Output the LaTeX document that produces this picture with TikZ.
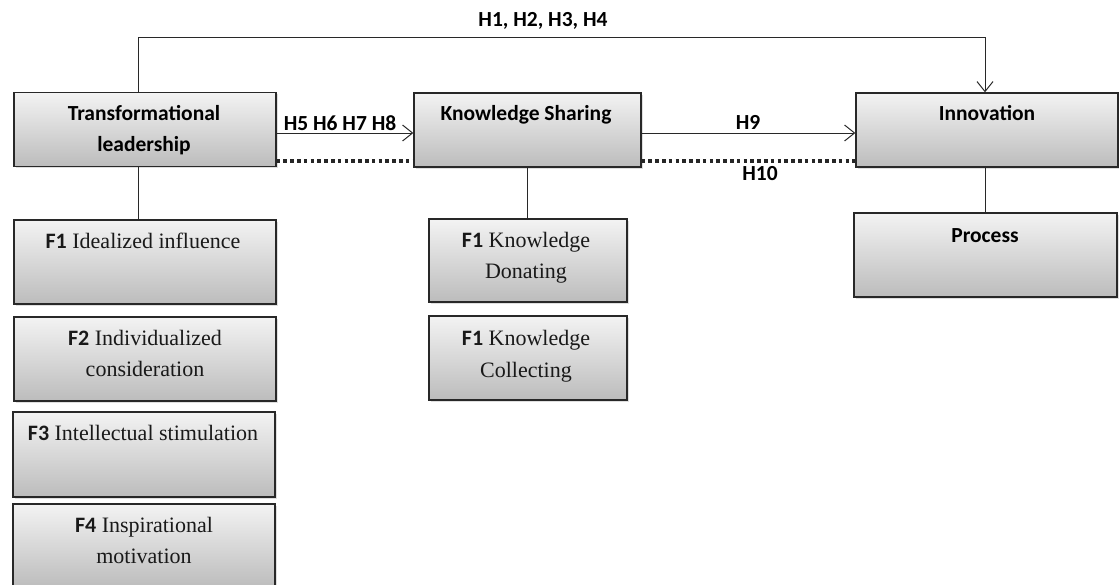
\documentclass[tikz,border=0pt]{standalone}
\usepackage{fontspec}
\setmainfont{Liberation Serif}
\newfontfamily\headfont{Carlito}
\usetikzlibrary{arrows.meta,shadows}
\definecolor{boxtop}{RGB}{243,243,243}
\definecolor{boxbot}{RGB}{188,188,188}
\definecolor{edge}{RGB}{40,40,40}
\newcommand{\fb}[1]{{\headfont\bfseries #1}}
\begin{document}
\begin{tikzpicture}[x=1pt,y=-1pt,
  box/.style={draw=edge, line width=1.3pt, top color=boxtop, bottom color=boxbot,
    rectangle, inner sep=0pt,
    drop shadow={opacity=0.25, shadow xshift=1.5pt, shadow yshift=-1.5pt}},
  head/.style={font=\headfont\bfseries\fontsize{21.5}{31}\selectfont, align=center,
    inner sep=0pt, anchor=base, text=black},
  sub/.style={font=\fontsize{22}{31.5}\selectfont, align=center,
    inner sep=0pt, anchor=base, text=black!90},
  hyp/.style={font=\headfont\bfseries\fontsize{21.5}{26}\selectfont,
    inner sep=0pt, anchor=base, text=black},
  conn/.style={draw=edge, line width=1pt},
  arr/.style={conn, -{Straight Barb[length=10pt,width=16pt,line width=1pt]}},
  dotline/.style={draw=black!85, line width=3.5pt, dash pattern=on 3.5pt off 3.3pt}
]
\useasboundingbox (0,0) rectangle (1119,584);

% main constructs
\node[box, minimum width=262pt, minimum height=74pt] (tl)  at (145,129.5) {};
\node[box, minimum width=227pt, minimum height=74pt] (ks)  at (527.5,130) {};
\node[box, minimum width=262pt, minimum height=74pt] (inn) at (987,130) {};

% dimensions of transformational leadership
\node[box, minimum width=262pt, minimum height=84pt] (f1) at (145,262) {};
\node[box, minimum width=262pt, minimum height=84pt] (f2) at (145,359) {};
\node[box, minimum width=262pt, minimum height=85pt] (f3) at (144,454.5) {};
\node[box, minimum width=262pt, minimum height=84pt] (f4) at (144,546) {};

% dimensions of knowledge sharing
\node[box, minimum width=198pt, minimum height=83pt] (kd) at (528,260.5) {};
\node[box, minimum width=198pt, minimum height=84pt] (kc) at (528,358) {};

% dimension of innovation
\node[box, minimum width=263pt, minimum height=84pt] (pr) at (985.5,255) {};

% box texts
\node[head] (tlt1) at (144,120) {Transformational};
\node[head] (tlt2) at (144,151) {leadership};
\node[head] (kst)  at (526,120) {Knowledge Sharing};
\node[head] (innt) at (987,120) {Innovation};
\node[head] (prt)  at (985,242) {Process};

\node[sub] (f1t)  at (143,248) {\fb{F1} Idealized influence};
\node[sub] (f2t1) at (145,345) {\fb{F2} Individualized};
\node[sub] (f2t2) at (145,376) {consideration};
\node[sub] (f3t)  at (143,440) {\fb{F3} Intellectual stimulation};
\node[sub] (f4t1) at (144,532) {\fb{F4} Inspirational};
\node[sub] (f4t2) at (144,563) {motivation};
\node[sub] (kdt1) at (526,247) {\fb{F1} Knowledge};
\node[sub] (kdt2) at (526,278) {Donating};
\node[sub] (kct1) at (526,345) {\fb{F1} Knowledge};
\node[sub] (kct2) at (526,377) {Collecting};

% tree links
\draw[conn] ([xshift=-7pt]tl.south) -- ([xshift=-7pt]f1.north);
\draw[conn] (ks.south) -- (kd.north -| ks.south);
\draw[conn] ([xshift=-2pt]inn.south) -- ([xshift=-2pt]inn.south |- pr.north);

% hypothesised paths
\draw[arr] ([xshift=-7pt]tl.north) -- ++(0,-54) coordinate (tc) -| ([xshift=-2pt]inn.north);
\node[hyp] (h14) at (543,26) {H1, H2, H3, H4};

\draw[arr] (tl.east |- 0,133) -- (ks.west |- 0,133);
\node[hyp] (h58) at (340,130) {H5 H6 H7 H8};

\draw[arr] (ks.east |- 0,133) -- (inn.west |- 0,133);
\node[hyp] (h9) at (748,129) {H9};

\draw[dotline] (tl.east |- 0,161) -- (ks.west |- 0,161);
\draw[dotline] (ks.east |- 0,161) -- (inn.west |- 0,161);
\node[hyp] (h10) at (760,180) {H10};
\end{tikzpicture}
\end{document}
